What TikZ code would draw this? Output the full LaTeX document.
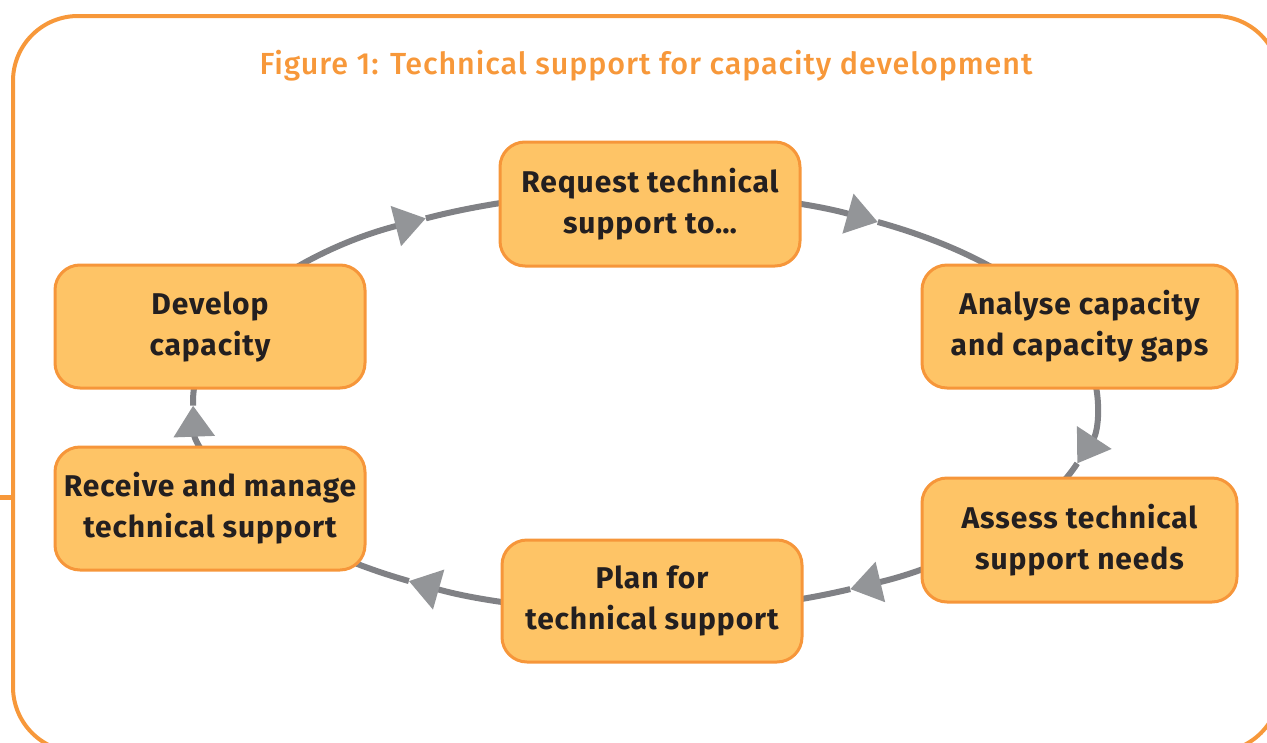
\documentclass[tikz,border=0pt]{standalone}
\usepackage{fontspec}
\setmainfont{Fira Sans}
\newfontfamily\titlefont{Fira Sans Medium}
\usetikzlibrary{arrows.meta,calc}

\definecolor{frameorange}{HTML}{F7983A}
\definecolor{boxfill}{HTML}{FEC466}
\definecolor{boxedge}{HTML}{F6963A}
\definecolor{linkgray}{HTML}{808185}
\definecolor{tipgray}{HTML}{939598}
\definecolor{inkdark}{HTML}{231F20}

\tikzset{
  stage/.style={draw=boxedge, line width=3pt, fill=boxfill, rounded corners=25pt,
    inner sep=0pt, align=center, text=inkdark,
    font=\fontsize{30}{41}\selectfont\bfseries\addfontfeatures{LetterSpace=3}},
  link/.style={draw=linkgray, line width=6pt},
  linktip/.style={link, -{Triangle[length=31pt, width=40pt, color=tipgray]}},
}

% one leg of the cycle: an arc of the ring around the hub with the arrowhead at angle #2
\newcommand\ringleg[3]{%
  \draw[linktip] ($(hub)+(#1:452 and 210)$) arc[start angle=#1, end angle=#2, x radius=452, y radius=210];
  \draw[link] ($(hub)+(#2:452 and 210)$) arc[start angle=#2, end angle=#3, x radius=452, y radius=210];
}

\begin{document}
\begin{tikzpicture}[x=1pt, y=-1pt]
  \useasboundingbox (0,0) rectangle (1267,742);
  \clip (0,0) rectangle (1267,742);

  % outer frame and the stub on its left side
  \draw[frameorange, line width=4pt, rounded corners=65pt] (13,16) rectangle (1280,752);
  \draw[frameorange, line width=5pt] (0,497) -- (13,497);

  \node[anchor=base, text=frameorange, font=\fontsize{30.5}{34}\titlefont\addfontfeatures{LetterSpace=3}]
    (title) at (646,74) {Figure 1: Technical support for capacity development};

  % the ring carrying the cycle
  \coordinate (hub) at (645,402);
  \ringleg{-90}{-59}{-20}
  \ringleg{-10}{17}{25}
  \ringleg{25}{63}{90}
  \ringleg{90}{121.5}{150}
  \ringleg{150}{179}{200}
  \ringleg{200}{241}{270}

  % stages
  \node[stage, minimum width=300pt, minimum height=124pt] (request) at (650,204) {Request technical\\support to…};
  \node[stage, minimum width=315pt, minimum height=123pt] (analyse) at (1079.5,326.5) {Analyse capacity\\and capacity gaps};
  \node[stage, minimum width=315pt, minimum height=124pt] (assess) at (1079.5,540) {Assess technical\\support needs};
  \node[stage, minimum width=300pt, minimum height=122pt] (plan) at (652,601) {Plan for\\technical support};
  \node[stage, minimum width=310pt, minimum height=123pt] (receive) at (210,508.5) {Receive and manage\\technical support};
  \node[stage, minimum width=310pt, minimum height=123pt] (develop) at (210,326.5) {Develop\\capacity};
\end{tikzpicture}
\end{document}
